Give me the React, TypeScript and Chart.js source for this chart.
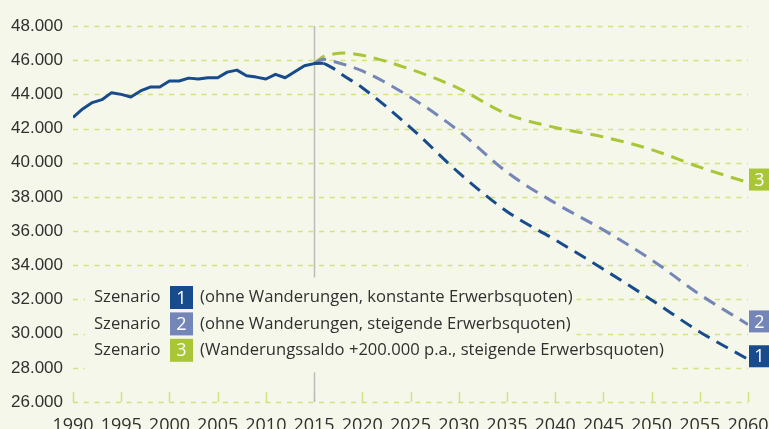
import React, { useEffect, useRef } from "react";
import { Chart, registerables } from "chart.js";

Chart.register(...registerables);

// ---- data ----
const histYears = [1990, 1991, 1992, 1993, 1994, 1995, 1996, 1997, 1998, 1999, 2000, 2001, 2002, 2003, 2004, 2005, 2006, 2007, 2008, 2009, 2010, 2011, 2012, 2013, 2014, 2015, 2016];
const histValues = [42650, 43150, 43520, 43690, 44100, 44000, 43850, 44200, 44430, 44430, 44780, 44780, 44950, 44900, 44970, 44970, 45300, 45420, 45090, 45010, 44900, 45170, 44970, 45320, 45670, 45800, 45820];

const scen1Years = [2016, 2017, 2018, 2020, 2025, 2030, 2035, 2040, 2045, 2050, 2055, 2060];
const scen1Values = [45820, 45520, 45120, 44390, 42060, 39420, 37150, 35490, 33770, 31970, 30100, 28500];

const scen2Years = [2015, 2016, 2017, 2020, 2025, 2030, 2035, 2040, 2045, 2050, 2055, 2060];
const scen2Values = [45800, 46050, 45930, 45370, 43830, 41860, 39450, 37640, 36070, 34320, 32290, 30540];

const scen3Years = [2015, 2016, 2017, 2018, 2020, 2025, 2030, 2035, 2040, 2045, 2050, 2055, 2060];
const scen3Values = [45800, 46230, 46360, 46420, 46290, 45470, 44350, 42850, 42060, 41510, 40770, 39740, 38840];

const scenarioNumbers = ["1", "2", "3"];
const scenarioLabel = "Szenario";
const scenarioTexts = [
  "(ohne Wanderungen, konstante Erwerbsquoten)",
  "(ohne Wanderungen, steigende Erwerbsquoten)",
  "(Wanderungssaldo +200.000 p.a., steigende Erwerbsquoten)",
];

const yMin = 26000;
const yMax = 48000;
const yStep = 2000;
const xMin = 1990;
const xMax = 2060;
const xStep = 5;
const markerYear = 2015;

// ---- styles ----
const BG = "#f5f7ea";
const GRID = "#d3e27c";
const DARK = "#174b8c";
const MID = "#7485b8";
const GREEN = "#a8c636";
const TEXT = "#303030";
const scenarioColors = [DARK, MID, GREEN];
const GRID_DASH = [5, 5.7];

const fmt = (v: number) => {
  const s = String(Math.round(v));
  return s.replace(/\B(?=(\d{3})+(?!\d))/g, ".");
};

const decorPlugin = {
  id: "decor",
  beforeDatasetsDraw(chart: any) {
    const { ctx, chartArea, scales } = chart;
    const xs = scales.x;
    const ys = scales.y;
    ctx.save();
    // dashed horizontal grid lines
    ctx.strokeStyle = GRID;
    ctx.lineWidth = 1.5;
    ctx.setLineDash(GRID_DASH);
    for (let v = yMin; v <= yMax; v += yStep) {
      const py = Math.round(ys.getPixelForValue(v)) + 0.5;
      ctx.beginPath();
      ctx.moveTo(chartArea.left, py);
      ctx.lineTo(chartArea.right, py);
      ctx.stroke();
    }
    ctx.setLineDash([]);
    // inward x ticks
    for (let yr = xMin; yr <= xMax; yr += xStep) {
      const px = Math.round(xs.getPixelForValue(yr)) + 0.5;
      ctx.beginPath();
      ctx.moveTo(px, chartArea.bottom);
      ctx.lineTo(px, chartArea.bottom - 10);
      ctx.stroke();
    }
    // vertical marker line
    const mx = Math.round(xs.getPixelForValue(markerYear)) + 0.5;
    ctx.strokeStyle = "#bcbcbc";
    ctx.lineWidth = 1.5;
    ctx.beginPath();
    ctx.moveTo(mx, chartArea.top);
    ctx.lineTo(mx, chartArea.bottom);
    ctx.stroke();

    // legend
    const left = chartArea.left;
    const textX = left + 21;
    const boxX = left + 97;
    const descX = left + 127;
    const rowY0 = chartArea.bottom - 104.5;
    const rowH = 26.4;
    const legendFont = "16.6px 'Open Sans'";
    ctx.font = legendFont;
    const widths = scenarioTexts.map((t) => ctx.measureText(t).width);
    ctx.fillStyle = BG;
    const topY = rowY0 - 20;
    const midY = rowY0 + rowH * 1.5;
    const botY = rowY0 + rowH * 2 + 22;
    ctx.fillRect(left + 12, topY, descX + Math.max(widths[0], widths[1]) + 4 - (left + 12), midY - topY);
    ctx.fillRect(left + 12, midY, descX + widths[2] + 4 - (left + 12), botY - midY);

    for (let i = 0; i < 3; i++) {
      const cy = rowY0 + i * rowH;
      ctx.fillStyle = TEXT;
      ctx.font = legendFont;
      ctx.textBaseline = "middle";
      ctx.textAlign = "left";
      ctx.fillText(scenarioLabel, textX, cy);
      ctx.fillText(scenarioTexts[i], descX, cy);
      ctx.fillStyle = scenarioColors[i];
      ctx.fillRect(boxX, cy - 11.5, 23, 23);
      ctx.fillStyle = "#ffffff";
      ctx.font = "18px 'Open Sans'";
      ctx.textAlign = "center";
      ctx.fillText(scenarioNumbers[i], boxX + 11.5, cy + 1);
    }
    ctx.restore();
  },
  afterDraw(chart: any) {
    const { ctx, chartArea } = chart;
    ctx.save();
    [1, 2, 3].forEach((di, i) => {
      const meta = chart.getDatasetMeta(di);
      const last = meta.data[meta.data.length - 1];
      const cy = last.y - 3;
      ctx.fillStyle = scenarioColors[i];
      ctx.fillRect(chartArea.right + 1, cy - 11, 21, 22);
      ctx.fillStyle = "#ffffff";
      ctx.font = "18px 'Open Sans'";
      ctx.textAlign = "center";
      ctx.textBaseline = "middle";
      ctx.fillText(scenarioNumbers[i], chartArea.right + 11.5, cy + 1);
    });
    ctx.restore();
  },
};

const toPts = (xs: number[], ys: number[]) => xs.map((x, i) => ({ x, y: ys[i] }));

export default function App() {
  const ref = useRef<HTMLCanvasElement | null>(null);
  useEffect(() => {
    document.body.style.margin = "0";
    document.body.style.background = BG;
    const canvas = ref.current;
    if (!canvas) return;
    const dashed = (color: string, xs: number[], ys: number[]) => ({
      data: toPts(xs, ys),
      borderColor: color,
      borderWidth: 3,
      borderDash: [13, 8],
      borderCapStyle: "butt" as const,
      pointRadius: 0,
      fill: false,
      cubicInterpolationMode: "monotone" as const,
    });
    const chart = new Chart(canvas, {
      type: "line",
      data: {
        datasets: [
          {
            data: toPts(histYears, histValues),
            borderColor: DARK,
            borderWidth: 3,
            pointRadius: 0,
            fill: false,
            tension: 0,
            borderJoinStyle: "round",
          },
          dashed(DARK, scen1Years, scen1Values),
          dashed(MID, scen2Years, scen2Values),
          dashed(GREEN, scen3Years, scen3Values),
        ] as any,
      },
      options: {
        animation: false,
        responsive: false,
        devicePixelRatio: 1,
        layout: { padding: { top: 26, right: 21, left: 0, bottom: 0 } },
        plugins: { legend: { display: false }, tooltip: { enabled: false } },
        scales: {
          x: {
            type: "linear",
            min: xMin,
            max: xMax,
            grid: { display: false, drawTicks: false },
            border: { display: false },
            ticks: {
              stepSize: xStep,
              padding: 13,
              maxRotation: 0,
              autoSkip: false,
              color: TEXT,
              font: { family: "'Open Sans'", size: 18 },
              callback: (v: any) => String(v),
            },
            afterFit: (s: any) => {
              s.height = 27;
              s.paddingLeft = 0;
              s.paddingRight = 0;
            },
          },
          y: {
            min: yMin,
            max: yMax,
            grid: { display: false, drawTicks: false },
            border: { display: false },
            ticks: {
              stepSize: yStep,
              padding: 10,
              color: TEXT,
              font: { family: "'Liberation Sans'", size: 17 },
              callback: (v: any) => fmt(Number(v)),
            },
            afterFit: (s: any) => {
              s.width = 73;
            },
          },
        },
      } as any,
      plugins: [decorPlugin],
    });
    return () => chart.destroy();
  }, []);
  return (
    <div style={{ width: 769, height: 429, background: BG }}>
      <canvas ref={ref} width={769} height={429} style={{ display: "block" }} />
    </div>
  );
}
